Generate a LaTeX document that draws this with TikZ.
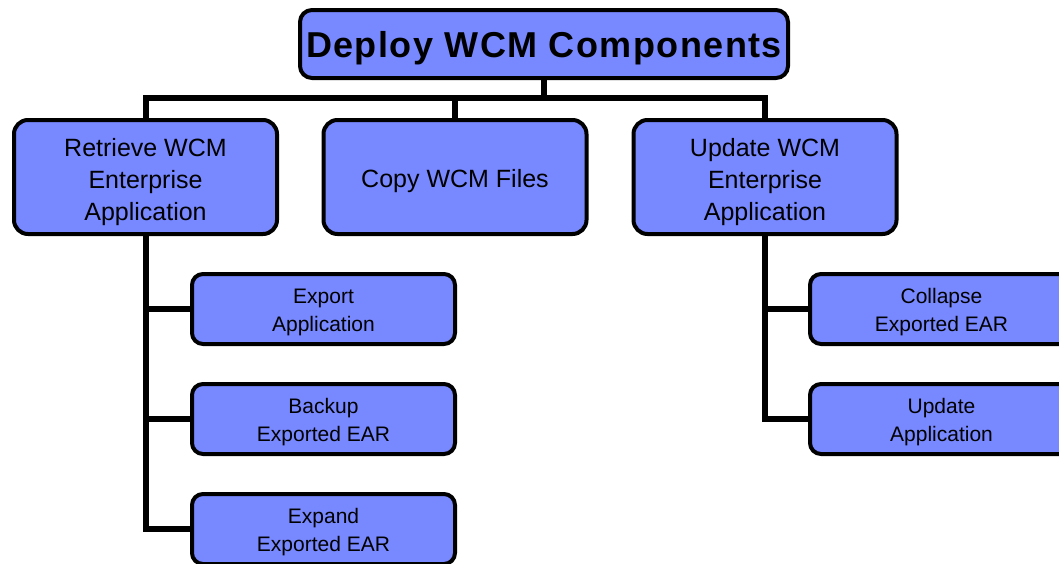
\documentclass[tikz,border=0pt]{standalone}
\usepackage{fontspec}
\setmainfont{Liberation Sans}
\definecolor{boxblue}{RGB}{120,136,255}
\begin{document}
\begin{tikzpicture}[x=1pt,y=-1pt,
  box/.style={draw=black,fill=boxblue,line width=4pt,align=center,inner sep=0pt,text depth=0pt},
  topbox/.style={box,rounded corners=12pt,minimum width=488pt,minimum height=68pt,
    font=\fontsize{36}{42}\selectfont\bfseries\addfontfeature{LetterSpace=4},
    text height=26pt},
  taskbox/.style={box,rounded corners=14pt,minimum width=263pt,minimum height=114pt,
    font=\fontsize{25}{32}\selectfont,text height=86pt},
  subtask/.style={box,rounded corners=11pt,minimum width=263pt,minimum height=70pt,
    font=\fontsize{21}{28}\selectfont,text height=45pt},
  link/.style={line width=6pt,line cap=rect}]
\clip (0,0) rectangle (1059,563);
\useasboundingbox (0,0) rectangle (1059,563);

\coordinate (bar) at (0,98);

\node[topbox] (deploy) at (544,44) {Deploy WCM Components};

\node[taskbox] (retrieve) at (145.5,177) {Retrieve WCM\\Enterprise\\Application};
\node[taskbox,text height=20pt] (copy) at (455,177) {Copy WCM Files};
\node[taskbox] (update) at (765,177) {Update WCM\\Enterprise\\Application};

\node[subtask] (export) at (323.5,309) {Export\\Application};
\node[subtask] (backup) at (323.5,419) {Backup\\Exported EAR};
\node[subtask] (expand) at (323.5,529) {Expand\\Exported EAR};

\node[subtask] (collapse) at (941.5,309) {Collapse\\Exported EAR};
\node[subtask] (apply) at (941.5,419) {Update\\Application};

% top level
\draw[link] (deploy.south) -- (deploy.south |- bar);
\draw[link] (retrieve.north) |- (update.north |- bar) -- (update.north);
\draw[link] (copy.north) -- (copy.north |- bar);

% left branch
\draw[link] (retrieve.south) |- (expand.west);
\draw[link] (retrieve.south |- export.west) -- (export.west);
\draw[link] (retrieve.south |- backup.west) -- (backup.west);

% right branch
\draw[link] (update.south) |- (apply.west);
\draw[link] (update.south |- collapse.west) -- (collapse.west);

\end{tikzpicture}
\end{document}
